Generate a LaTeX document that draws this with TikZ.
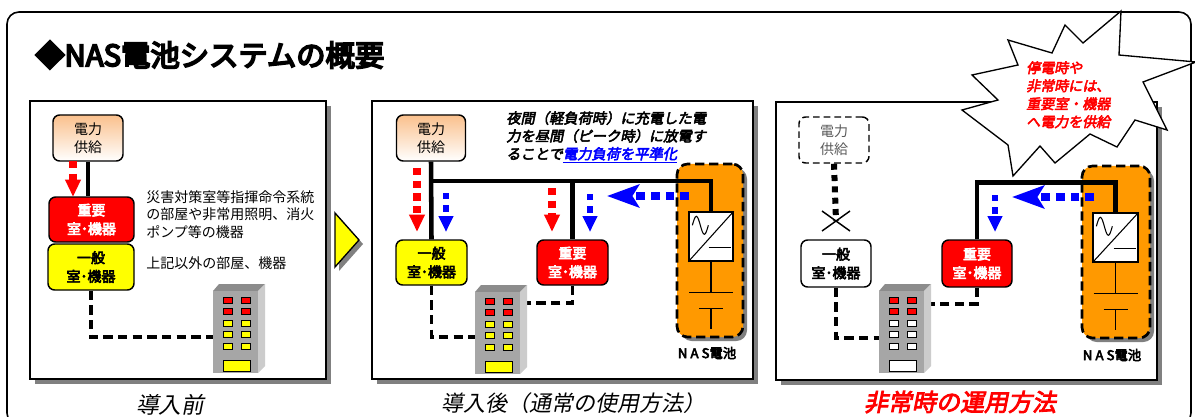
\documentclass[tikz,border=0pt]{standalone}
\usepackage{fontspec}
\setmainfont{Noto Sans CJK JP}
\newfontfamily\jp{Noto Sans CJK JP}
\newfontfamily\jpH[FakeBold=4]{Noto Sans CJK JP}
\newfontfamily\jpT[FakeBold=6]{Noto Sans CJK JP}
\newfontfamily\jpHI[FakeBold=3.5,FakeSlant=0.2]{Noto Sans CJK JP}
\newfontfamily\jpI[FakeSlant=0.2]{Noto Sans CJK JP}
\usetikzlibrary{arrows.meta,shadows}

\definecolor{impred}{RGB}{255,0,0}
\definecolor{genyel}{RGB}{255,255,0}
\definecolor{nasorg}{RGB}{255,153,0}
\definecolor{bluearr}{RGB}{0,0,255}
\definecolor{peach}{RGB}{250,192,140}
\definecolor{shadowgray}{RGB}{128,128,128}
\definecolor{bldfront}{RGB}{166,166,166}
\definecolor{bldtop}{RGB}{140,140,140}
\definecolor{bldside}{RGB}{204,204,204}
\definecolor{dimtext}{RGB}{90,90,90}

\tikzset{
  every node/.style={inner sep=0pt},
  rbox/.style={draw=black, line width=1.1pt, rounded corners=5pt, align=center,
    font=\jpH\fontsize{10.5}{14}\selectfont},
  impbox/.style={rbox, fill=impred, text=white},
  genbox/.style={rbox, fill=genyel},
  whitebox/.style={rbox, fill=white},
  supbox/.style={rbox, top color=peach, bottom color=white,
    font=\jp\fontsize{10.5}{13.5}\selectfont},
  supdash/.style={rbox, fill=white, dash pattern=on 5pt off 3pt, text=dimtext,
    font=\jp\fontsize{10.5}{13.5}\selectfont},
  nasbox/.style={draw=black, line width=2pt, dash pattern=on 7pt off 3.5pt,
    rounded corners=8pt, fill=nasorg,
    drop shadow={shadow xshift=3pt, shadow yshift=-3pt, fill=shadowgray, opacity=1}},
  invbox/.style={draw=black, line width=1pt, fill=white},
  power/.style={line width=3.4pt},
  linkdash/.style={line width=2.6pt, dash pattern=on 7pt off 4pt},
  cutdash/.style={line width=4.5pt, dash pattern=on 4.5pt off 4pt},
  redarrow/.style={draw=impred, line width=6pt, dash pattern=on 5.5pt off 4pt,
    -{Triangle[length=13pt,width=11pt]}},
  bluearrow/.style={draw=bluearr, line width=4.8pt, dash pattern=on 4.8pt off 4.5pt,
    -{Triangle[length=12pt,width=10.5pt]}},
  bigblue/.style={draw=bluearr, line width=6.5pt, dash pattern=on 6.5pt off 4.5pt,
    -{Stealth[length=24pt,width=17pt,inset=5pt]}},
  labeltext/.style={font=\jpH\fontsize{10}{12}\selectfont},
  pics/bldg/.style={code={
    \fill[bldtop] (0,0) -- (6,-7) -- (52,-7) -- (45,0) -- cycle;
    \fill[bldside] (45,0) -- (52,-7) -- (52,75) -- (45,82) -- cycle;
    \fill[bldfront] (0,0) rectangle (45,82);
    \foreach \wx in {10,28} {
      \foreach \wy in {6,17.5} {
        \draw[fill=impred, line width=0.5pt] (\wx,\wy) rectangle ++(9,6);
      }
      \foreach \wy in {29,40.5,52} {
        \draw[fill=#1, line width=0.5pt] (\wx,\wy) rectangle ++(9,6);
      }
    }
    \draw[fill=#1, line width=0.5pt] (10,69) rectangle (37,80);
    \coordinate (-w) at (0,46);
    \coordinate (-e) at (52,12);
  }},
  pics/inverter/.style={code={
    % diagonal, sine wave and DC bar inside the converter box
    \draw[line width=0.8pt] (#1.south west) -- (#1.north east);
    \draw[line width=0.8pt] ([shift={(4,14)}]#1.north west)
      sin ++(4,-9) cos ++(4,9) sin ++(4,9) cos ++(4,-9);
    \draw[line width=0.8pt] ([shift={(-25,-14)}]#1.south east) -- ++(22,0);
    % battery cell below the converter
    \draw[line width=0.8pt] (#1.south) -- ++(0,31) coordinate (-plate);
    \draw[line width=0.8pt] ([xshift=-16.5pt]-plate) -- ([xshift=16.5pt]-plate);
    \draw[line width=0.8pt] ([shift={(-12,16)}]-plate) -- ([shift={(12,16)}]-plate);
    \draw[line width=0.8pt] ([shift={(0,16)}]-plate) -- ++(0,20);
  }},
}

\begin{document}
\begin{tikzpicture}[x=0.75pt,y=-0.75pt]
\useasboundingbox (0,0) rectangle (1195,417);

% outer frame
\draw[line width=1.2pt, rounded corners=9pt] (7,12) rectangle (1191,425);

% title
\node[anchor=west, font=\jpT\fontsize{22}{22}\selectfont] (title) at (35,55) {◆NAS電池システムの概要};

% three panels with shadows
\foreach \xa/\ya/\xb/\yb in {30/101/326/379, 372/101/753/379, 776/102/1157/380} {
  \fill[shadowgray] (\xa+5,\ya+5) rectangle (\xb+5,\yb+5);
  \draw[fill=white, line width=1pt] (\xa,\ya) rectangle (\xb,\yb);
}

% transition arrow
\fill[shadowgray] (339,217) -- (363,244) -- (339,271) -- cycle;
\draw[fill=genyel, line width=1pt, line join=miter] (335,213) -- (359,240) -- (335,267) -- cycle;

% ---------- before installation ----------
\node[supbox, minimum width=52.5pt, minimum height=34.5pt] (sup1) at (88,138) {電力\\供給};
\node[impbox, minimum width=63.75pt, minimum height=33.75pt] (imp1) at (91.5,219.5) {重要\\室･機器};
\node[genbox, minimum width=64.5pt, minimum height=34.5pt] (gen1) at (91,267) {一般\\室･機器};
\draw[power] (sup1.south) -- (sup1.south |- imp1.north);
\coordinate (r1s) at (73,161);
\coordinate (r1e) at (73,197);
\draw[redarrow] (r1s) -- (r1e);

\node[anchor=north west, align=left, font=\jp\fontsize{10.5}{13.3}\selectfont] (desc1) at (146,190)
  {災害対策室等指揮命令系統\\の部屋や非常用照明、消火\\ポンプ等の機器};
\node[anchor=west, font=\jp\fontsize{10.5}{13.3}\selectfont] (desc2) at (146,263) {上記以外の部屋、機器};

\draw[linkdash] (gen1.south) |- (213,337);
\pic (b1) at (213,291) {bldg=genyel};

\node[font=\jpI\fontsize{17}{17}\selectfont] (cap1) at (170,405) {導入前};

% ---------- after installation ----------
\node[supbox, minimum width=51.75pt, minimum height=34.5pt] (sup2) at (431,138) {電力\\供給};
\node[genbox, minimum width=53.25pt, minimum height=33.75pt] (gen2) at (431.5,262.5) {一般\\室･機器};
\node[impbox, minimum width=53.25pt, minimum height=33.75pt] (imp2) at (572.5,262.5) {重要\\室･機器};
\node[nasbox, minimum width=49.5pt, minimum height=129.75pt] (nas2) at (710,250.5) {};
\node[invbox, minimum width=33pt, minimum height=36.75pt] (inv2) at (711,236.5) {};
\pic {inverter=inv2};
\node[labeltext] (naslbl2) at (707,353) {N A S電池};

\coordinate (j2) at (431,181);
\draw[power] (sup2.south) -- (gen2.north);
\draw[power] (j2) -- (j2 -| inv2.north) -- (inv2.north);
\draw[power] (j2 -| imp2.north) -- (imp2.north);

\coordinate (r2as) at (417,168); \coordinate (r2ae) at (417,232);
\coordinate (b2as) at (446,193); \coordinate (b2ae) at (446,232);
\coordinate (r2bs) at (552,188); \coordinate (r2be) at (552,232);
\coordinate (b2bs) at (590,194); \coordinate (b2be) at (590,232);
\coordinate (h2s) at (689,196);  \coordinate (h2e) at (607,196);
\draw[redarrow] (r2as) -- (r2ae);
\draw[bluearrow] (b2as) -- (b2ae);
\draw[redarrow] (r2bs) -- (r2be);
\draw[bluearrow] (b2bs) -- (b2be);
\draw[bigblue] (h2s) -- (h2e);

\draw[linkdash] (gen2.south) |- (475,337);
\draw[linkdash] (imp2.south) |- (527,303);
\pic (b2) at (475,292) {bldg=genyel};

\node[anchor=north west, align=left, font=\jpHI\fontsize{10.7}{13.4}\selectfont] (note2) at (506,111)
  {夜間（軽負荷時）に充電した電\\力を昼間（ピーク時）に放電す\\ることで{\color{bluearr}\underline{電力負荷を平準化}}};

\node[font=\jpI\fontsize{16.5}{16.5}\selectfont] (cap2) at (573,403) {導入後（通常の使用方法）};

% ---------- emergency operation ----------
\node[supdash, minimum width=52.5pt, minimum height=34.5pt] (sup3) at (834,140) {電力\\供給};
\node[whitebox, minimum width=52.5pt, minimum height=35.25pt] (gen3) at (836,263.5) {一般\\室･機器};
\node[impbox, minimum width=52.5pt, minimum height=35.25pt] (imp3) at (977,263.5) {重要\\室･機器};
\node[nasbox, minimum width=51pt, minimum height=129pt] (nas3) at (1116,252) {};
\node[invbox, minimum width=33.75pt, minimum height=36.75pt] (inv3) at (1115.5,237.5) {};
\pic {inverter=inv3};
\node[labeltext] (naslbl3) at (1112,355) {N A S電池};

\coordinate (x3) at (836,221);
\draw[cutdash] (sup3.south) -- (x3);
\draw[line width=1.1pt] ([shift={(-14,-10)}]x3) -- ([shift={(14,10)}]x3);
\draw[line width=1.1pt] ([shift={(-14,10)}]x3) -- ([shift={(14,-10)}]x3);

\draw[power] (imp3.north) -- ++(0,-57) -| (inv3.north);

\coordinate (b3s) at (995,195); \coordinate (b3e) at (995,232);
\coordinate (h3s) at (1094,197); \coordinate (h3e) at (1012,197);
\draw[bluearrow] (b3s) -- (b3e);
\draw[bigblue] (h3s) -- (h3e);

\draw[linkdash] (gen3.south) |- (879,338);
\draw[linkdash] (imp3.south) |- (931,304);
\pic (b3) at (879,291) {bldg=white};

\node[font=\jpHI\fontsize{18}{18}\selectfont, text=impred] (cap3) at (960,402) {非常時の運用方法};

% starburst callout
\draw[line width=1pt, fill=white, line join=miter]
  (1121,11) -- (1119,55) -- (1196,62) -- (1143,82) -- (1167,130) -- (1135,120)
  -- (1117,147) -- (1090,134) -- (1055,163) -- (1040,146) -- (1013,176) -- (1008,145)
  -- (962,110) -- (998,100) -- (972,75) -- (1018,65) -- (1008,40) -- (1052,53)
  -- (1065,25) -- (1083,43) -- cycle;
\node[anchor=north west, align=left, text=impred, font=\jpHI\fontsize{10.5}{13.5}\selectfont] (burst) at (1026,61)
  {停電時や\\非常時には、\\重要室・機器\\へ電力を供給};

\end{tikzpicture}
\end{document}
